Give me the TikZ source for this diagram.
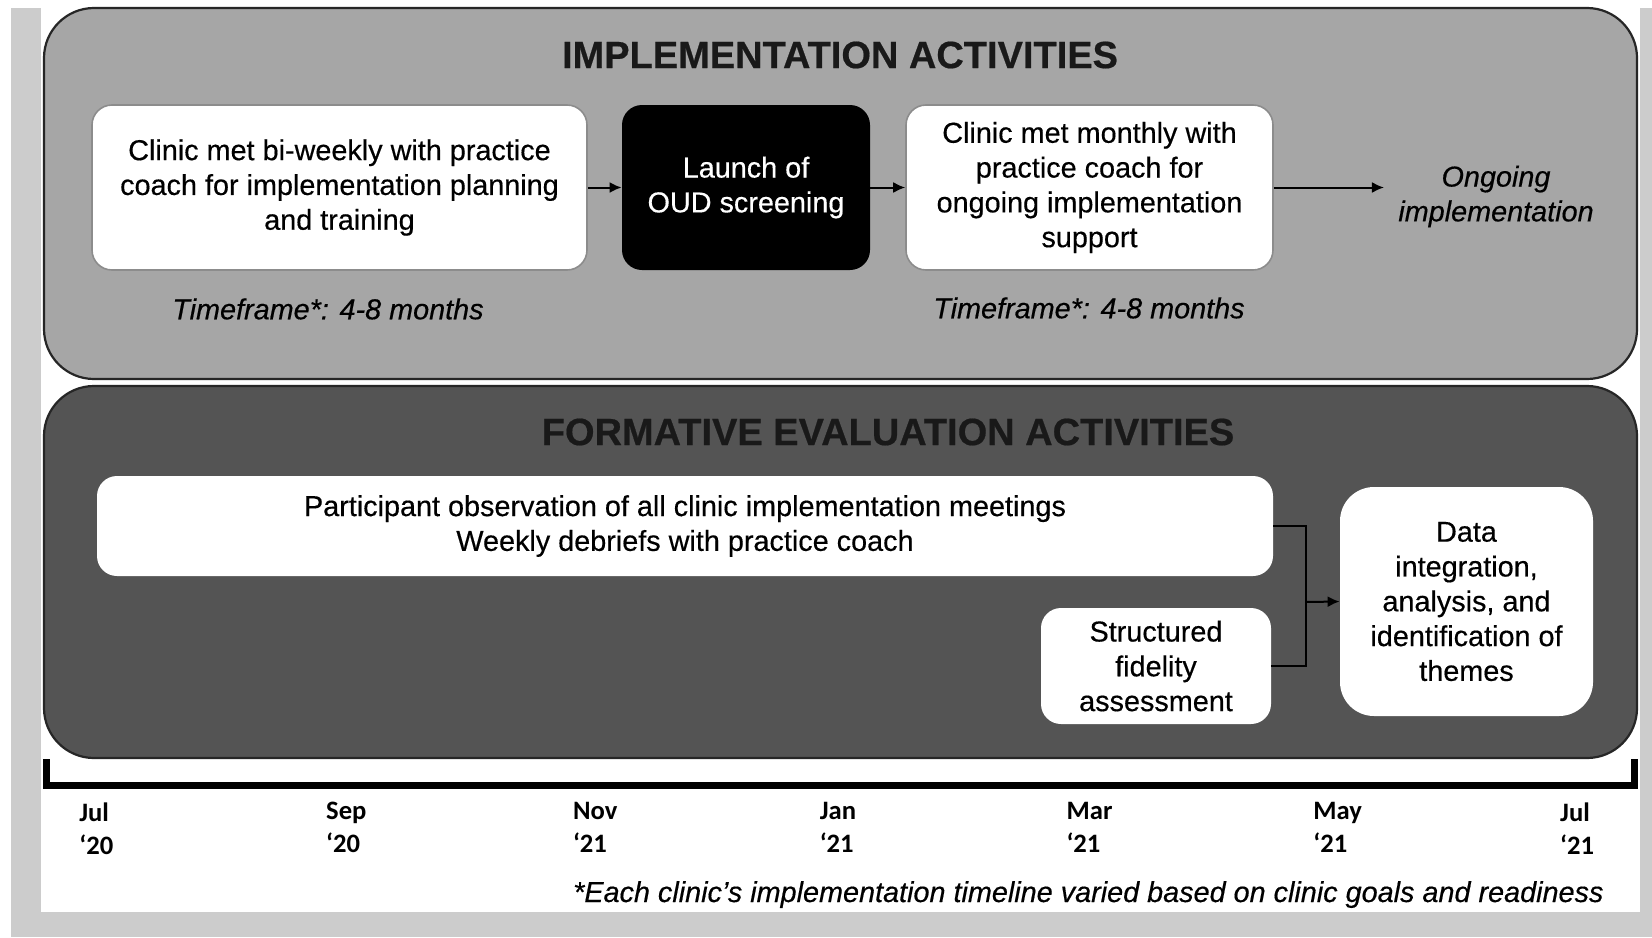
\documentclass[tikz,border=0pt]{standalone}
\usepackage{fontspec}
\setmainfont{Liberation Sans}[
	UprightFeatures={FakeBold=0.4},
	ItalicFeatures={FakeBold=0.4},
	BoldFeatures={FakeBold=0.5}]
\newfontfamily\monthfont{Carlito}
\usetikzlibrary{arrows.meta}

\definecolor{framegray}{HTML}{CCCCCC}
\definecolor{implgray}{HTML}{A6A6A6}
\definecolor{evalgray}{HTML}{545454}
\definecolor{edgegray}{HTML}{8C8C8C}

\begin{document}
\begin{tikzpicture}[x=0.5pt,y=-0.5pt,
		band/.style={draw=black!85,line width=1.1pt,rounded corners=25pt},
		head/.style={font=\bfseries\fontsize{19}{23}\selectfont,text=black!90},
		txt/.style={font=\fontsize{14.4}{17.4}\selectfont,align=center},
		note/.style={txt,font=\itshape\fontsize{14.4}{17.4}\selectfont},
		card/.style={txt,fill=white,rounded corners=10pt,inner sep=0pt},
		edged/.style={draw=edgegray,line width=0.8pt},
		month/.style={font=\monthfont\bfseries\fontsize{13.3}{16.5}\selectfont,align=left,inner sep=0pt},
		arr/.style={-{Latex[length=6pt,width=5.5pt]},line width=1pt}]
	% white sheet with grey frame
	\fill[white] (0,0) rectangle (1652,937);
	\fill[framegray] (11,8) rectangle (1652,937);
	\fill[white] (41,0) rectangle (1640,912);
	% the two bands
	\draw[band,fill=implgray] (44,8) rectangle (1637,379);
	\draw[band,fill=evalgray] (44,386) rectangle (1637,758);
	
	% implementation band
	\node[head] (impl) at (840,55) {IMPLEMENTATION ACTIVITIES};
	\node[card,edged,minimum width=247.5pt,minimum height=82.5pt] (biweekly) at (339.5,187.5)
		{Clinic met bi-weekly with practice\\coach for implementation planning\\and training};
	\node[card,fill=black,text=white,minimum width=124pt,minimum height=82.5pt] (launch) at (746,187.5)
		{Launch of\\OUD screening};
	\node[card,edged,minimum width=183.5pt,minimum height=82.5pt] (monthly) at (1089.5,187.5)
		{Clinic met monthly with\\practice coach for\\ongoing implementation\\support};
	\node[note,inner sep=7pt] (ongoing) at (1496,196.5) {Ongoing\\implementation};
	\draw[arr] (biweekly) -- (launch);
	\draw[arr] (launch) -- (monthly);
	\draw[arr] (monthly.east) -- (monthly.east -| ongoing.west);
	\node[note] (tfone) at (328,309) {Timeframe*: 4-8 months};
	\node[note] (tftwo) at (1089,308) {Timeframe*: 4-8 months};
	
	% evaluation band
	\node[head] (eval) at (888,432) {FORMATIVE EVALUATION ACTIVITIES};
	\node[card,minimum width=588pt,minimum height=50pt] (observe) at (685,526)
		{Participant observation of all clinic implementation meetings\\Weekly debriefs with practice coach};
	\node[card,minimum width=115pt,minimum height=58pt] (fidelity) at (1156,666)
		{Structured\\fidelity\\assessment};
	\node[card,rounded corners=17pt,minimum width=126.5pt,minimum height=114.5pt] (themes) at (1466.5,601.5)
		{Data\\integration,\\analysis, and\\identification of\\themes};
	\coordinate (merge) at (1306,602);
	\draw[line width=1pt] (observe.east) -| (merge) |- (fidelity.east);
	\draw[arr] (merge) -- (themes.west);
	
	% timeline
	\draw[line width=3.5pt] (46,759) -- (46,785.5) -- (1634,785.5) -- (1634,759);
	\foreach \mon/\yr [count=\i from 0] in {Jul/20,Sep/20,Nov/21,Jan/21,Mar/21,May/21,Jul/21}
		\node[month,anchor=north west] (m\i) at (79+\i*246.8,802) {\mon\\‘\yr};
	\node[note,anchor=base east,inner sep=0pt] (footnote) at (1604,902)
		{*Each clinic’s implementation timeline varied based on clinic goals and readiness};
\end{tikzpicture}
\end{document}
